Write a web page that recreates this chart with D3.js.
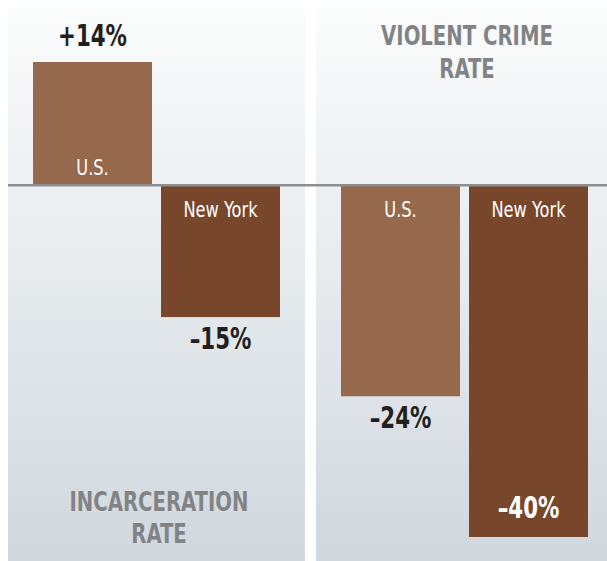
<!DOCTYPE html>
<html>
<head>
<meta charset="utf-8">
<script src="https://cdn.jsdelivr.net/npm/d3@7"></script>
<style>
  body { margin: 0; background: #fff; }
  text { font-family: "DejaVu Sans Condensed", "DejaVu Sans", sans-serif; }
</style>
</head>
<body>
<svg id="chart" width="607" height="561"></svg>
<script>
// data
const categories = ['U.S.', 'New York'];
const panelTitles = [['INCARCERATION', 'RATE'], ['VIOLENT CRIME', 'RATE']];
const incarcerationChange = [14, -15];
const violentCrimeChange = [-24, -40];
const seriesValues = [incarcerationChange, violentCrimeChange];

const barColors = ['#96694c', '#78462b'];

const svg = d3.select('#chart');

// background gradient for the panels
const defs = svg.append('defs');
const grad = defs.append('linearGradient')
    .attr('id', 'panelGrad')
    .attr('x1', 0).attr('y1', 0).attr('x2', 0).attr('y2', 1);
grad.append('stop').attr('offset', '0%').attr('stop-color', '#fbfcfc');
grad.append('stop').attr('offset', '100%').attr('stop-color', '#d0d8de');

const panelX = [8, 316];
const panelW = [297, 291];
const panelTop = 8;

// shared value scale
const y = d3.scaleLinear().domain([-40, 14]).range([537, 62]);

// bar positions inside a panel
const x = d3.scaleBand()
    .domain(categories)
    .range([25, 272])
    .paddingInner(9 / 128);

// narrow the glyphs horizontally to mimic a condensed face
const squeeze = (cx, cy, s) => `translate(${cx},${cy}) scale(${s},1)`;

panelX.forEach((px, i) => {
    svg.append('rect')
        .attr('x', px)
        .attr('y', panelTop)
        .attr('width', panelW[i])
        .attr('height', 561 - panelTop)
        .attr('fill', 'url(#panelGrad)');
});

const panels = svg.selectAll('.panel')
    .data(seriesValues)
    .enter()
    .append('g')
    .attr('class', 'panel')
    .attr('transform', (d, i) => `translate(${panelX[i]},0)`);

panels.each(function(values, pi) {
    const g = d3.select(this);
    const rows = values.map((v, i) => ({ cat: categories[i], value: v, idx: i, panel: pi }));

    // bars
    g.selectAll('.bar')
        .data(rows)
        .enter()
        .append('rect')
        .attr('class', 'bar')
        .attr('x', d => x(d.cat))
        .attr('y', d => Math.min(y(0), y(d.value)))
        .attr('width', x.bandwidth())
        .attr('height', d => Math.abs(y(d.value) - y(0)))
        .attr('fill', d => barColors[d.idx]);

    // category names inside the bars
    g.selectAll('.cat')
        .data(rows)
        .enter()
        .append('text')
        .attr('class', 'cat')
        .attr('transform', d => squeeze(x(d.cat) + x.bandwidth() / 2,
            d.value >= 0 ? y(0) - 10 : y(0) + 32, 0.86))
        .attr('text-anchor', 'middle')
        .attr('font-size', 21)
        .attr('fill', '#fff')
        .text(d => d.cat);

    // value labels
    g.selectAll('.val')
        .data(rows)
        .enter()
        .append('text')
        .attr('class', 'val')
        .attr('transform', d => {
            let ty;
            if (d.value >= 0) ty = y(d.value) - 16;
            else if (d.value <= -30) ty = y(d.value) - 19;
            else ty = y(d.value) + 32;
            return squeeze(x(d.cat) + x.bandwidth() / 2, ty, 0.79);
        })
        .attr('text-anchor', 'middle')
        .attr('font-size', 30)
        .attr('font-weight', 'bold')
        .attr('fill', d => d.value <= -30 ? '#fff' : '#231f20')
        .text(d => (d.value >= 0 ? '+' : '\u2013') + Math.abs(d.value) + '%');

    // panel title
    const titleY = pi === 0 ? [511, 543] : [45, 78];
    g.selectAll('.title')
        .data(panelTitles[pi])
        .enter()
        .append('text')
        .attr('class', 'title')
        .attr('transform', (d, i) => squeeze(151, titleY[i], 0.81))
        .attr('text-anchor', 'middle')
        .attr('font-size', 27)
        .attr('font-weight', 'bold')
        .attr('fill', '#818386')
        .text(d => d);
});

// zero line across both panels
svg.append('line')
    .attr('x1', 8)
    .attr('x2', 607)
    .attr('y1', y(0))
    .attr('y2', y(0))
    .attr('stroke', '#8c8f91')
    .attr('stroke-width', 2.5);
</script>
</body>
</html>
